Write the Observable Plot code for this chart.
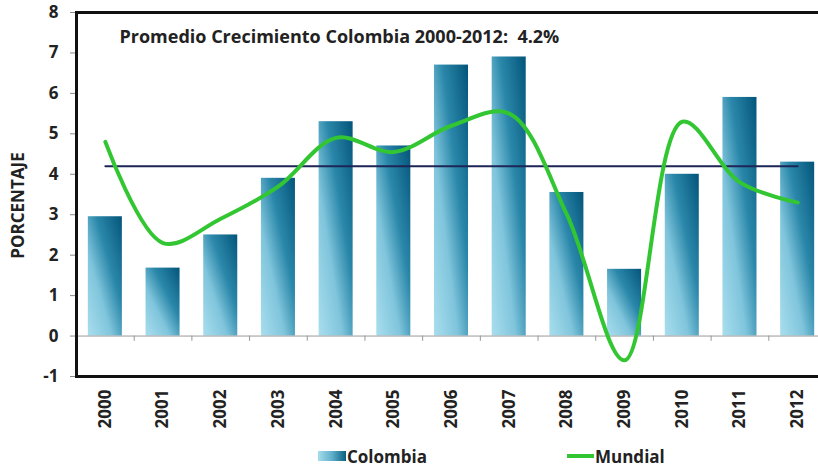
<!DOCTYPE html>
<html>
<head>
<meta charset="utf-8">
<script src="https://cdn.jsdelivr.net/npm/d3@7"></script>
<script src="https://cdn.jsdelivr.net/npm/@observablehq/plot@0.6"></script>
<style>
  html, body { margin: 0; padding: 0; background: #fff; overflow: hidden; }
  #wrap { position: relative; width: 818px; height: 467px; font-family: "Open Sans", Lato, sans-serif; font-weight: bold; }
  #chart svg { display: block; overflow: hidden; }
  #chart svg text { white-space: pre; }
  .legend { position: absolute; top: 445px; left: 0; width: 818px; height: 22px; color: #222; font-size: 17px; }
  .item { position: absolute; top: 0; display: flex; align-items: center; height: 22px; }
  .sw-bar { width: 28px; height: 10px; background: linear-gradient(to right, #a6dcec, #5fb0cc 50%, #0a5f80); margin-right: 1px; }
  .sw-line { width: 27px; height: 4px; background: #33c633; margin-right: 1px; }
</style>
</head>
<body>
<div id="wrap">
  <div id="chart"></div>
  <div class="legend">
    <div class="item" style="left:318px"><span class="sw-bar"></span><span id="lg1"></span></div>
    <div class="item" style="left:567px"><span class="sw-line"></span><span id="lg2"></span></div>
  </div>
</div>
<script>
const years = ["2000","2001","2002","2003","2004","2005","2006","2007","2008","2009","2010","2011","2012"];
const colombia = [2.95, 1.68, 2.5, 3.9, 5.3, 4.7, 6.7, 6.9, 3.55, 1.65, 4.0, 5.9, 4.3];
const mundial = [4.8, 2.3, 2.9, 3.7, 4.9, 4.55, 5.2, 5.5, 3.0, -0.6, 5.3, 3.8, 3.3];
const promedio = 4.2;
const seriesNames = ["Colombia", "Mundial"];
const yTicks = [-1, 0, 1, 2, 3, 4, 5, 6, 7, 8];
const titleText = `Promedio Crecimiento Colombia 2000-2012:  ${promedio}%`;
const yLabel = "PORCENTAJE";

const barData = years.map((y, i) => ({year: y, value: colombia[i]}));
const lineData = years.map((y, i) => ({year: y, value: mundial[i]}));
const avgData = years.map(y => ({year: y, value: promedio}));

const xRange = [76, 826];
const step = (xRange[1] - xRange[0]) / years.length;
const font = "'Open Sans', Lato, sans-serif";

const chart = Plot.plot({
  width: 818,
  height: 440,
  marginTop: 12,
  marginBottom: 64,
  marginLeft: 76,
  marginRight: 0,
  style: {fontFamily: font, fontWeight: "bold", color: "#222", background: "#fff"},
  x: {domain: years, range: xRange, paddingInner: 0.41, paddingOuter: 0.205, round: false},
  y: {domain: [-1, 8]},
  marks: [
    Plot.barY(barData, {x: "year", y: "value", fill: "url(#barGrad)"}),
    Plot.ruleY([0], {stroke: "#999", strokeWidth: 1}),
    Plot.ruleX(years.slice(1), {x: d => d, y1: 0, y2: -0.13, dx: -step / 2, stroke: "#999"}),
    Plot.line(avgData, {x: "year", y: "value", stroke: "#1c2556", strokeWidth: 2}),
    Plot.line(lineData, {x: "year", y: "value", stroke: "#33c633", strokeWidth: 4, curve: "catmull-rom"}),
    Plot.text([titleText], {frameAnchor: "top-left", dx: 43, dy: 25, fontSize: 18, fontWeight: "bold", fill: "#222", textAnchor: "start", lineAnchor: "middle"}),
    Plot.text([yLabel], {frameAnchor: "left", dx: -58, dy: 11, rotate: -90, fontSize: 17, fontWeight: "bold", fill: "#222", textAnchor: "middle"}),
    Plot.axisY({ticks: yTicks, tickFormat: d => String(d), tickSize: 6, tickPadding: 12, fontSize: 17, fontWeight: "bold", label: null, stroke: "#888"}),
    Plot.axisX({tickRotate: -90, tickSize: 0, tickPadding: 13, fontSize: 17, fontWeight: "bold", label: null}),
    Plot.frame({anchor: "left", stroke: "#111", strokeWidth: 3}),
    Plot.frame({anchor: "top", stroke: "#111", strokeWidth: 3}),
    Plot.frame({anchor: "bottom", stroke: "#111", strokeWidth: 3})
  ]
});

const svg = d3.select(chart);
const defs = svg.insert("defs", ":first-child");
const grad = defs.append("linearGradient").attr("id", "barGrad")
  .attr("x1", 0).attr("y1", 1).attr("x2", 1).attr("y2", 0);
[[0, "#a9deee"], [0.35, "#80c5dc"], [0.62, "#2b88aa"], [1, "#03557a"]].forEach(([o, c]) =>
  grad.append("stop").attr("offset", o).attr("stop-color", c));

document.getElementById("chart").appendChild(chart);
document.getElementById("lg1").textContent = seriesNames[0];
document.getElementById("lg2").textContent = seriesNames[1];
</script>
</body>
</html>
